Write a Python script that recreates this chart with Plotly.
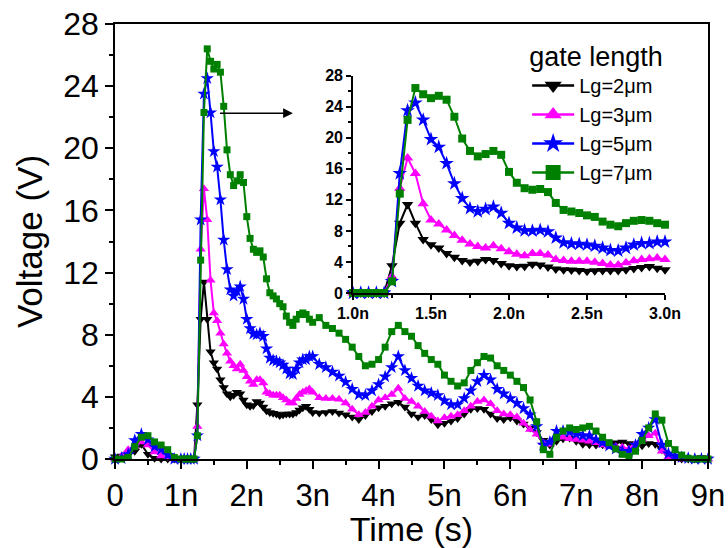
import numpy as np
import plotly.graph_objects as go

# Time samples in ns (finer spacing around the main pulse)
time_ns = [
    0.0, 0.1, 0.2, 0.3, 0.4, 0.5, 0.6, 0.7, 0.8, 0.9, 1.0,
    1.05, 1.1, 1.15, 1.2, 1.25, 1.3, 1.35, 1.4, 1.45, 1.5,
    1.55, 1.6, 1.65, 1.7, 1.75, 1.8, 1.85, 1.9, 1.95, 2.0,
    2.05, 2.1, 2.15, 2.2, 2.25, 2.3, 2.35, 2.4, 2.45, 2.5,
    2.55, 2.6, 2.65, 2.7, 2.75, 2.8, 2.85, 2.9, 2.95, 3.0,
    3.1, 3.2, 3.3, 3.4, 3.5, 3.6, 3.7, 3.8, 3.9, 4.0,
    4.1, 4.2, 4.3, 4.4, 4.5, 4.6, 4.7, 4.8, 4.9, 5.0,
    5.1, 5.2, 5.3, 5.4, 5.5, 5.6, 5.7, 5.8, 5.9, 6.0,
    6.1, 6.2, 6.3, 6.4, 6.5, 6.6, 6.7, 6.8, 6.9, 7.0,
    7.1, 7.2, 7.3, 7.4, 7.5, 7.6, 7.7, 7.8, 7.9, 8.0,
    8.1, 8.2, 8.3, 8.4, 8.5, 8.6, 8.7, 8.8, 8.9, 9.0,
]

# Voltage (V) for each gate length
v_lg2 = [
    0.15, 0.2, 0.25, 0.5, 0.95, 0.3, 0.05, 0, 0, 0, 0.05,
    0, 0, 0, 0, 3.5, 9.0, 11.4, 9.0, 6.9, 6.2,
    5.8, 5.1, 4.6, 4.2, 4.0, 4.1, 4.3, 4.2, 3.8, 3.5,
    3.4, 3.45, 3.7, 3.6, 3.35, 3.1, 3.0, 2.95, 2.9, 2.8,
    2.85, 2.9, 2.9, 2.9, 3.0, 3.15, 3.3, 3.4, 3.2, 3.0,
    2.96, 3.0, 3.05, 2.96, 2.85, 2.7, 2.55, 2.8, 3.05, 3.3,
    3.4, 3.55, 3.65, 3.35, 2.9, 2.7, 2.8, 2.55, 2.2, 2.3,
    2.45, 2.6, 2.9, 3.2, 3.25, 3.2, 2.9, 2.6, 2.55, 2.65,
    2.45, 2.25, 2.0, 1.7, 1.2, 0.9, 1.15, 1.3, 1.35, 1.15,
    0.95, 0.92, 0.9, 0.92, 1.0, 1.05, 1.1, 1.0, 0.9, 0.85,
    1.0, 0.95, 0.6, 0.2, 0.1, 0, 0, 0, 0.1, 0,
]
v_lg3 = [
    0, 0.2, 0.6, 0.8, 1.1, 0.9, 0.45, 0.2, 0.05, 0, 0,
    0, 0, 0, 0, 2.1, 13.5, 17.4, 15.4, 11.5, 9.4,
    8.9, 8.1, 7.4, 6.8, 6.3, 6.0, 5.8, 6.1, 5.7, 5.3,
    5.0, 4.8, 5.1, 5.1, 4.9, 4.3, 4.2, 4.1, 4.1, 4.1,
    3.95, 3.8, 3.6, 3.6, 3.9, 4.15, 4.3, 4.4, 4.5, 4.3,
    3.95, 3.9, 3.9, 3.85, 3.6, 3.2, 2.85, 3.0, 3.4, 3.8,
    3.95, 4.15, 4.55, 3.9, 3.7, 3.4, 3.05, 2.75, 2.45, 2.65,
    2.75, 2.85, 3.1, 3.4, 3.7, 3.8, 3.55, 3.1, 2.9, 2.85,
    2.7, 2.3, 1.9, 1.6, 1.05, 0.95, 1.45, 1.4, 1.3, 1.25,
    1.2, 1.15, 1.05, 0.9, 0.8, 0.8, 0.75, 0.65, 0.95, 1.25,
    1.5, 1.65, 0.5, 0.15, 0.1, 0, 0, 0, 0, 0,
]
v_lg5 = [
    0, 0.05, 0.3, 1.2, 1.6, 1.25, 0.8, 0.6, 0.25, 0, 0,
    0, 0, 0, 0, 1.5, 15.4, 23.5, 24.5, 22.3, 19.8,
    18.8, 16.7, 14.1, 12.2, 10.9, 10.5, 10.8, 11.1, 10.3, 9.0,
    8.4, 8.05, 8.0, 8.1, 7.9, 7.1, 6.5, 6.35, 6.3, 6.2,
    6.05, 5.8, 5.5, 5.45, 5.8, 6.2, 6.4, 6.4, 6.6, 6.6,
    6.1, 5.9, 5.6, 5.35, 4.95, 4.5, 4.15, 4.1, 4.4, 4.8,
    5.3, 5.9, 6.6, 5.7, 5.2, 4.7, 4.4, 4.25, 4.1, 3.75,
    3.5, 3.5, 3.9, 4.4, 5.0, 5.4, 5.1, 4.5, 4.2, 3.9,
    3.6, 3.25, 2.85, 2.1, 0.9, 1.1, 1.8, 1.8, 1.75, 1.6,
    1.5, 1.5, 1.25, 1.05, 0.85, 0.65, 0.5, 0.5, 0.9, 1.6,
    2.0, 2.55, 0.9, 0.35, 0.2, 0.1, 0.05, 0, 0, 0,
]
v_lg7 = [
    0, 0, 0.1, 0.8, 1.4, 1.5, 1.1, 0.9, 0.6, 0.1, 0,
    0, 0, 0, 0, 1.5, 12.8, 22.3, 26.4, 25.6, 25.1,
    25.4, 24.9, 22.7, 19.9, 18.3, 17.6, 17.9, 18.3, 17.8, 15.6,
    14.2, 13.5, 13.3, 13.4, 13.0, 11.6, 10.7, 10.5, 10.3, 10.0,
    9.8, 9.2, 8.8, 8.6, 9.0, 9.3, 9.4, 9.3, 9.0, 8.8,
    9.1, 8.6, 8.4, 8.1, 7.7, 7.2, 6.6, 6.0, 6.1, 6.4,
    7.2, 8.2, 8.6, 8.2, 7.9, 7.3, 6.8, 6.4, 6.1, 5.4,
    5.0, 4.7, 4.9, 5.7, 6.2, 6.6, 6.5, 6.0, 5.7, 5.4,
    5.0, 4.6, 3.8, 2.4, 0.6, 0.3, 1.4, 1.8, 2.0, 1.9,
    2.0, 2.1, 1.8, 1.4, 1.05, 0.65, 0.3, 0.17, 0.5, 1.2,
    2.0, 2.9, 2.5, 1.0, 0.6, 0.25, 0.05, 0, 0, 0,
]

series_names = ["Lg=2\u03bcm", "Lg=3\u03bcm", "Lg=5\u03bcm", "Lg=7\u03bcm"]
series_values = [v_lg2, v_lg3, v_lg5, v_lg7]
series_colors = ["#000000", "#FF00FF", "#0000FF", "#008000"]
series_symbols = ["triangle-down", "triangle-up", "star", "square"]
main_sizes = [9, 9, 10, 7]
inset_sizes = [10, 10, 11, 8]

main_ticks = [0, 1, 2, 3, 4, 5, 6, 7, 8, 9]
main_ticktext = ["0", "1n", "2n", "3n", "4n", "5n", "6n", "7n", "8n", "9n"]
inset_ticks = [1.0, 1.5, 2.0, 2.5, 3.0]
inset_ticktext = ["1.0n", "1.5n", "2.0n", "2.5n", "3.0n"]

t = np.array(time_ns)
zoom = (t >= 1.0) & (t <= 3.0)

FONT = "Liberation Sans, Arial, sans-serif"

fig = go.Figure()

# Full transient on the main axes
for name, vals, col, sym, ms in zip(series_names, series_values, series_colors,
                                    series_symbols, main_sizes):
    fig.add_trace(go.Scatter(
        x=t, y=vals, mode="lines+markers", name=name, showlegend=False,
        line=dict(color=col, width=2),
        marker=dict(symbol=sym, size=ms, color=col, line=dict(width=0)),
        cliponaxis=False, xaxis="x", yaxis="y",
    ))

# Zoom on the pulse (1-3 ns) in the inset
for name, vals, col, sym, ms in zip(series_names, series_values, series_colors,
                                    series_symbols, inset_sizes):
    v = np.array(vals)
    fig.add_trace(go.Scatter(
        x=t[zoom], y=v[zoom], mode="lines+markers", name=name, showlegend=False,
        line=dict(color=col, width=2),
        marker=dict(symbol=sym, size=ms, color=col, line=dict(width=0)),
        cliponaxis=False, xaxis="x2", yaxis="y2",
    ))

# Legend entries with larger symbols
for name, col, sym in zip(series_names, series_colors, series_symbols):
    fig.add_trace(go.Scatter(
        x=[None], y=[None], mode="lines+markers", name=name,
        line=dict(color=col, width=2.5),
        marker=dict(symbol=sym, size=15, color=col, line=dict(width=0)),
        xaxis="x2", yaxis="y2",
    ))

axis_common = dict(showline=True, linecolor="black", linewidth=1.5,
                   showgrid=False, zeroline=False, ticks="outside",
                   tickcolor="black", tickwidth=1.5, automargin=False)

fig.update_layout(
    width=728, height=548,
    margin=dict(l=115, r=20, t=24, b=88.5, autoexpand=False),
    paper_bgcolor="white", plot_bgcolor="white",
    font=dict(family=FONT, color="black"),
    xaxis=dict(
        **axis_common, domain=[0, 1], range=[0, 9], mirror=True,
        tickmode="array", tickvals=main_ticks, ticktext=main_ticktext,
        ticklen=8, tickfont=dict(size=31),
        minor=dict(tickvals=[0.5, 1.5, 2.5, 3.5, 4.5, 5.5, 6.5, 7.5, 8.5],
                   ticks="outside", ticklen=4, tickwidth=1.5, tickcolor="black"),
        title=dict(text="Time (s)", font=dict(size=34), standoff=3),
    ),
    yaxis=dict(
        **axis_common, domain=[0, 1], range=[0, 28], mirror=True,
        tick0=0, dtick=4, ticklen=8, tickfont=dict(size=32),
        minor=dict(dtick=2, ticks="outside", ticklen=4, tickwidth=1.5, tickcolor="black"),
        title=dict(text="Voltage (V)", font=dict(size=35), standoff=10),
    ),
    xaxis2=dict(
        **axis_common, domain=[0.4013, 0.9275], anchor="y2", range=[1, 3],
        tickmode="array", tickvals=inset_ticks, ticktext=inset_ticktext,
        ticklen=5, tickfont=dict(size=16, weight="bold"),
        minor=dict(tickvals=[1.25, 1.75, 2.25, 2.75], ticks="outside",
                   ticklen=3, tickwidth=1.5, tickcolor="black"),
    ),
    yaxis2=dict(
        **axis_common, domain=[0.3816, 0.8813], anchor="x2", range=[0, 28],
        tick0=0, dtick=4, ticklen=5, tickfont=dict(size=16, weight="bold"),
        minor=dict(dtick=2, ticks="outside", ticklen=3, tickwidth=1.5, tickcolor="black"),
    ),
    legend=dict(
        x=0.695, y=0.984, xanchor="left", yanchor="top",
        bgcolor="rgba(0,0,0,0)", borderwidth=0, itemwidth=42,
        font=dict(size=20, family=FONT), tracegroupgap=0,
        title=dict(text="gate length", font=dict(size=27, family=FONT)),
    ),
)

# Arrow pointing from the pulse peak to the inset
fig.add_annotation(
    x=2.70, y=22.26, ax=1.57, ay=22.26, xref="x", yref="y", axref="x", ayref="y",
    showarrow=True, arrowhead=2, arrowsize=1.3, arrowwidth=1.5, arrowcolor="black",
    text="",
)

fig.write_html("out.html")
